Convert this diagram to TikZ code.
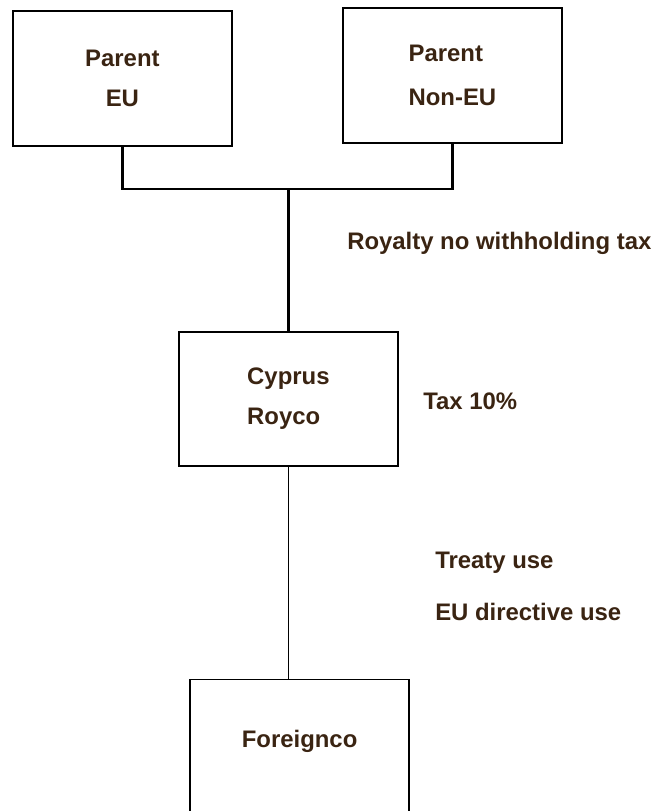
\documentclass[tikz,border=0pt]{standalone}
\usepackage{fontspec}
\setmainfont{Liberation Sans}
\definecolor{txtbrown}{RGB}{58,36,18}

\begin{document}
\begin{tikzpicture}[
    every node/.style={font=\fontsize{17}{28.5}\selectfont\bfseries, text=txtbrown},
    box/.style={draw=black, line width=1.4pt, minimum width=5.475cm, minimum height=3.375cm, inner sep=0pt},
    lbl/.style={anchor=west, inner sep=0pt}
  ]
      \useasboundingbox (0,0) rectangle (16.35,20.275);
      \clip (0,0) rectangle (16.35,20.275);

      \node[box, align=center] (eu) at (3.06,18.31) {Parent\\EU};
      \node[box, align=left] (noneu) at (11.31,18.39) {Parent\\[2.8pt]Non-EU};
      \node[box, line width=1pt, minimum height=3.35cm, align=left] (cyprus) at (7.21,10.3) {Cyprus\\Royco};
      \node[box, line width=1pt, anchor=north, text height=1.7cm, text depth=2cm] (foreignco) at (7.49,3.3) {Foreignco};

      \coordinate (bar) at (7.2,15.55);
      \draw[line width=1.8pt] (eu.south) |- (bar) -| (noneu.south);
      \draw[line width=1.8pt] (cyprus.north) -- (cyprus.north |- bar);
      \draw[line width=0.7pt] (cyprus.south) -- (cyprus.south |- foreignco.north);

      \node[lbl] (royalty) at (8.675,14.2) {Royalty no withholding tax};
      \node[lbl] (tax) at (10.575,10.25) {Tax 10\%};
      \node[lbl] (treaty) at (10.875,6.2) {Treaty use};
      \node[lbl] (directive) at (10.875,4.975) {EU directive use};
\end{tikzpicture}
\end{document}
